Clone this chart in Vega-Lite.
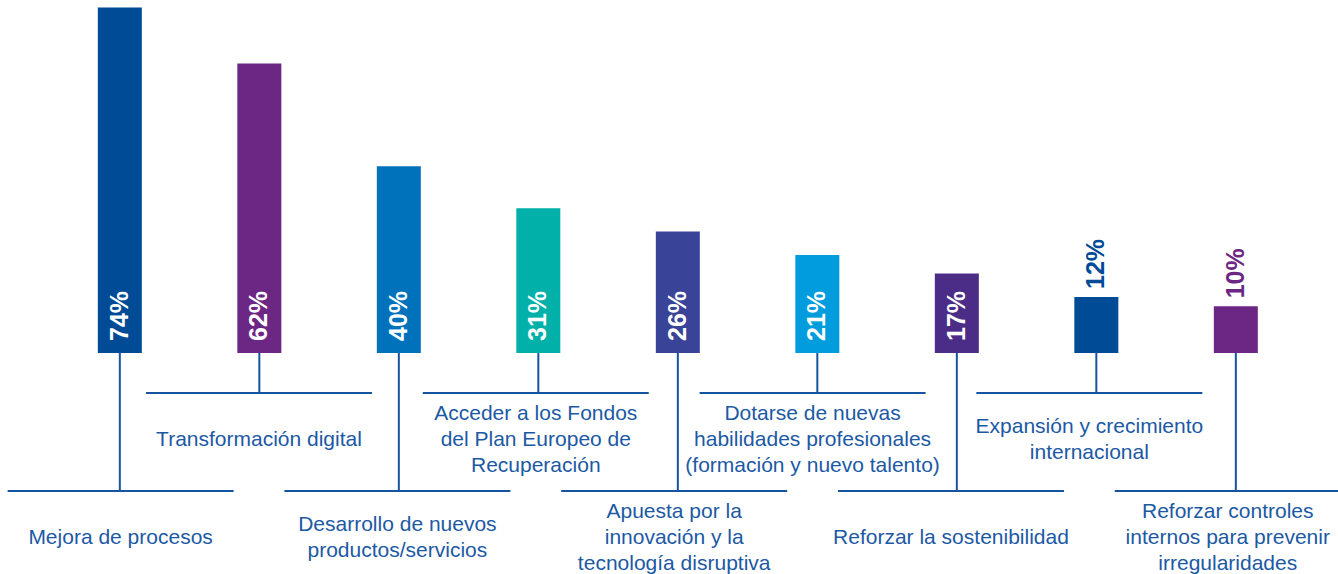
{
  "$schema": "https://vega.github.io/schema/vega-lite/v6.json",
  "autosize": "none",
  "width": 1338,
  "height": 574,
  "padding": 0,
  "background": "white",
  "config": {"view": {"stroke": null}, "font": "Liberation Sans"},
  "data": {
    "values": [
      {"cat": "Mejora de procesos", "pct": 0.74, "nivel": "b"},
      {"cat": "Transformación digital", "pct": 0.62, "nivel": "a"},
      {"cat": "Desarrollo de nuevos\nproductos/servicios", "pct": 0.40, "nivel": "b"},
      {"cat": "Acceder a los Fondos\ndel Plan Europeo de\nRecuperación", "pct": 0.31, "nivel": "a"},
      {"cat": "Apuesta por la\ninnovación y la\ntecnología disruptiva", "pct": 0.26, "nivel": "b"},
      {"cat": "Dotarse de nuevas\nhabilidades profesionales\n(formación y nuevo talento)", "pct": 0.21, "nivel": "a"},
      {"cat": "Reforzar la sostenibilidad", "pct": 0.17, "nivel": "b"},
      {"cat": "Expansión y crecimiento\ninternacional", "pct": 0.12, "nivel": "a"},
      {"cat": "Reforzar controles\ninternos para prevenir\nirregularidades", "pct": 0.10, "nivel": "b"}
    ]
  },
  "layer": [
    {
      "encoding": {
        "x": {"field": "cat", "type": "nominal", "sort": null, "axis": null,
              "scale": {"paddingInner": 0, "paddingOuter": 0.2957, "align": 0.607,
                        "domain": ["Mejora de procesos", "Transformación digital", "Desarrollo de nuevos\nproductos/servicios", "Acceder a los Fondos\ndel Plan Europeo de\nRecuperación", "Apuesta por la\ninnovación y la\ntecnología disruptiva", "Dotarse de nuevas\nhabilidades profesionales\n(formación y nuevo talento)", "Reforzar la sostenibilidad", "Expansión y crecimiento\ninternacional", "Reforzar controles\ninternos para prevenir\nirregularidades"]}}
      },
      "layer": [
        {
          "mark": {"type": "bar", "width": 44},
          "encoding": {
            "y": {"field": "pct", "type": "quantitative", "axis": null,
                  "scale": {"domain": [-0.4732, 0.7559], "nice": false, "zero": false}},
            "y2": {"datum": 0},
            "color": {"field": "cat", "type": "nominal", "sort": null, "legend": null,
                      "scale": {"range": ["#004b96", "#6b2783", "#0072bc", "#00b0a9", "#394398", "#009cdd", "#4b2c86", "#004b96", "#6b2783"]}}
          }
        },
        {
          "transform": [{"filter": "datum.pct >= 0.15"}],
          "mark": {"type": "text", "angle": 270, "align": "left", "baseline": "middle", "dx": 12,
                   "font": "Liberation Sans", "fontWeight": "bold", "fontSize": 25, "color": "white"},
          "encoding": {
            "y": {"datum": 0, "type": "quantitative"},
            "text": {"field": "pct", "type": "quantitative", "format": ".0%"}
          }
        },
        {
          "transform": [{"filter": "datum.pct < 0.15"}],
          "mark": {"type": "text", "angle": 270, "align": "left", "baseline": "middle", "dx": 8,
                   "font": "Liberation Sans", "fontWeight": "bold", "fontSize": 25},
          "encoding": {
            "y": {"field": "pct", "type": "quantitative"},
            "text": {"field": "pct", "type": "quantitative", "format": ".0%"},
            "color": {"field": "cat", "type": "nominal", "sort": null, "legend": null}
          }
        },
        {
          "transform": [{"filter": "datum.nivel == 'a'"}],
          "mark": {"type": "rule", "strokeWidth": 2, "color": "#17549f"},
          "encoding": {
            "y": {"datum": 0, "type": "quantitative"},
            "y2": {"datum": -0.0857}
          }
        },
        {
          "transform": [{"filter": "datum.nivel == 'b'"}],
          "mark": {"type": "rule", "strokeWidth": 2, "color": "#17549f"},
          "encoding": {
            "y": {"datum": 0, "type": "quantitative"},
            "y2": {"datum": -0.2955}
          }
        }
      ]
    },
    {
      "encoding": {
        "x": {"field": "cat", "type": "nominal", "sort": null, "axis": null,
              "scale": {"paddingInner": 0, "paddingOuter": 0.334, "align": 0.556,
                        "domain": ["Mejora de procesos", "Transformación digital", "Desarrollo de nuevos\nproductos/servicios", "Acceder a los Fondos\ndel Plan Europeo de\nRecuperación", "Apuesta por la\ninnovación y la\ntecnología disruptiva", "Dotarse de nuevas\nhabilidades profesionales\n(formación y nuevo talento)", "Reforzar la sostenibilidad", "Expansión y crecimiento\ninternacional", "Reforzar controles\ninternos para prevenir\nirregularidades"]}}
      },
      "layer": [
        {
          "transform": [{"filter": "datum.nivel == 'a'"}],
          "mark": {"type": "tick", "orient": "horizontal", "size": 226, "thickness": 2, "color": "#17549f", "opacity": 1},
          "encoding": {"y": {"datum": -0.0857, "type": "quantitative"}}
        },
        {
          "transform": [{"filter": "datum.nivel == 'b'"}],
          "mark": {"type": "tick", "orient": "horizontal", "size": 226, "thickness": 2, "color": "#17549f", "opacity": 1},
          "encoding": {"y": {"datum": -0.2955, "type": "quantitative"}}
        },
        {
          "transform": [{"filter": "datum.nivel == 'a' && length(split(datum.cat, '\\n')) == 1"}],
          "mark": {"type": "text", "align": "center", "baseline": "middle", "lineBreak": "\n", "lineHeight": 26,
                   "font": "Liberation Sans", "fontSize": 21, "color": "#1c59a4", "dy": 0},
          "encoding": {
            "y": {"datum": -0.1863, "type": "quantitative"},
            "text": {"field": "cat", "type": "nominal"}
          }
        },
        {
          "transform": [{"filter": "datum.nivel == 'a' && length(split(datum.cat, '\\n')) == 2"}],
          "mark": {"type": "text", "align": "center", "baseline": "middle", "lineBreak": "\n", "lineHeight": 26,
                   "font": "Liberation Sans", "fontSize": 21, "color": "#1c59a4", "dy": -13},
          "encoding": {
            "y": {"datum": -0.1863, "type": "quantitative"},
            "text": {"field": "cat", "type": "nominal"}
          }
        },
        {
          "transform": [{"filter": "datum.nivel == 'a' && length(split(datum.cat, '\\n')) == 3"}],
          "mark": {"type": "text", "align": "center", "baseline": "middle", "lineBreak": "\n", "lineHeight": 26,
                   "font": "Liberation Sans", "fontSize": 21, "color": "#1c59a4", "dy": -26},
          "encoding": {
            "y": {"datum": -0.1863, "type": "quantitative"},
            "text": {"field": "cat", "type": "nominal"}
          }
        },
        {
          "transform": [{"filter": "datum.nivel == 'b' && length(split(datum.cat, '\\n')) == 1"}],
          "mark": {"type": "text", "align": "center", "baseline": "middle", "lineBreak": "\n", "lineHeight": 26,
                   "font": "Liberation Sans", "fontSize": 21, "color": "#1c59a4", "dy": 0},
          "encoding": {
            "y": {"datum": -0.3961, "type": "quantitative"},
            "text": {"field": "cat", "type": "nominal"}
          }
        },
        {
          "transform": [{"filter": "datum.nivel == 'b' && length(split(datum.cat, '\\n')) == 2"}],
          "mark": {"type": "text", "align": "center", "baseline": "middle", "lineBreak": "\n", "lineHeight": 26,
                   "font": "Liberation Sans", "fontSize": 21, "color": "#1c59a4", "dy": -13},
          "encoding": {
            "y": {"datum": -0.3961, "type": "quantitative"},
            "text": {"field": "cat", "type": "nominal"}
          }
        },
        {
          "transform": [{"filter": "datum.nivel == 'b' && length(split(datum.cat, '\\n')) == 3"}],
          "mark": {"type": "text", "align": "center", "baseline": "middle", "lineBreak": "\n", "lineHeight": 26,
                   "font": "Liberation Sans", "fontSize": 21, "color": "#1c59a4", "dy": -26},
          "encoding": {
            "y": {"datum": -0.3961, "type": "quantitative"},
            "text": {"field": "cat", "type": "nominal"}
          }
        }
      ]
    }
  ],
  "resolve": {"scale": {"x": "independent"}}
}
